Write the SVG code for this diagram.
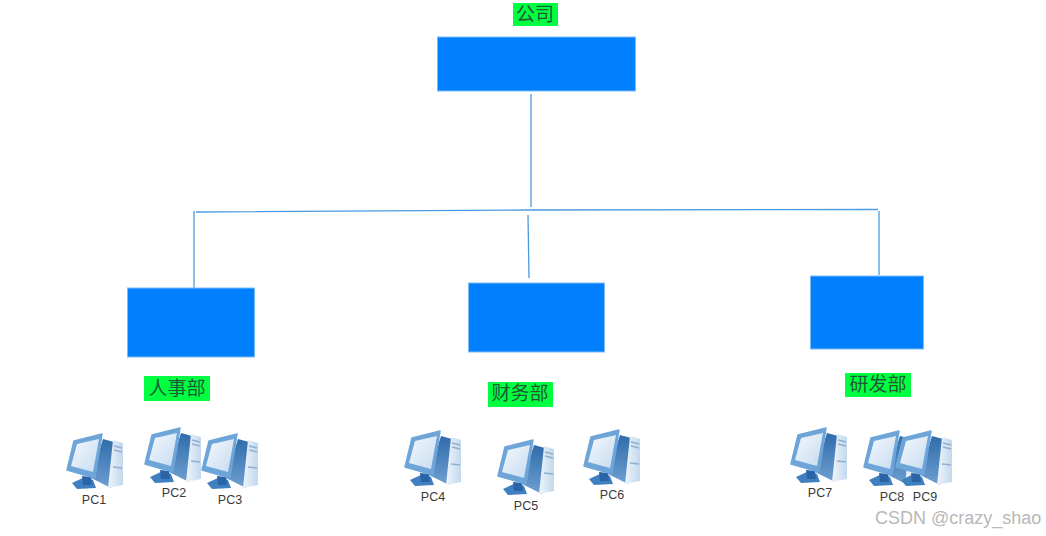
<svg xmlns="http://www.w3.org/2000/svg" width="1046" height="536" viewBox="0 0 1046 536">
<style>
.box{fill:#0080ff;stroke:#7dbcf5;stroke-width:1}
.tag{fill:#00ff40}
.cn{font-family:"Noto Sans CJK SC","Liberation Sans",sans-serif;font-size:19px;fill:#1f5a36;text-anchor:middle}
.pc{font-family:"Liberation Sans",Arial,sans-serif;font-size:12.500px;fill:#3a3a3a;text-anchor:middle}
.wm{font-family:"Liberation Sans",Arial,sans-serif;font-size:18px;fill:#b8b8b8}
.ln{stroke:#4a9ae0;stroke-width:1.300;fill:none}
</style>
<defs>
<linearGradient id="scr" x1="0" y1="0" x2="1" y2="1"><stop offset="0" stop-color="#f4f8fc"/><stop offset="1" stop-color="#c6dcf0"/></linearGradient>
<linearGradient id="tow" x1="0" y1="0" x2="1" y2="0"><stop offset="0" stop-color="#eef5fb"/><stop offset="1" stop-color="#c2d8ec"/></linearGradient>
<linearGradient id="side" x1="0" y1="0" x2="0" y2="1"><stop offset="0" stop-color="#2f6cab"/><stop offset="1" stop-color="#6f9fd0"/></linearGradient>
<filter id="soft" x="-10%" y="-10%" width="120%" height="120%"><feGaussianBlur stdDeviation="0.500"/></filter>
<g id="pcicon" filter="url(#soft)">
<path d="M36 5 L47 8 L44 54 L24 44 Z" fill="url(#side)"/>
<path d="M46 6 L56 9 L56 51 L41 54 Z" fill="url(#tow)"/>
<path d="M47 12 L55 14 M47 16 L55 18 M46 33 L55 34" stroke="#8fb0cf" stroke-width="1.400" fill="none"/>
<path d="M5 49 L18 43 L26 46 L29 54 L10 55 Z" fill="#3f7fc0"/>
<path d="M15 42 L24 43 L25 51 L16 51 Z" fill="#2a64a6"/>
<path d="M7 7 L35 0 L28 44 L0 36 Z" fill="#6ea5d8" stroke="#6ea5d8" stroke-width="1.500" stroke-linejoin="round"/>
<path d="M10 10 L32 5 L26 38 L4 32 Z" fill="url(#scr)"/>
</g>
</defs>
<rect width="1046" height="536" fill="#fff"/>
<g id="connectors" class="ln">
<path d="M531 94 V207"/>
<path d="M196 212 L530 210 L878 209.500"/>
<path d="M194 211 V288"/>
<path d="M528 215 L529 278"/>
<path d="M879 211 V275"/>
</g>
<g id="company"><rect class="box" x="437.500" y="37" width="198" height="54"/><rect class="tag" x="513" y="3" width="45" height="23"/><text class="cn" x="535" y="21">公司</text></g>
<g id="hr"><rect class="box" x="127.500" y="288" width="127" height="69"/><rect class="tag" x="144" y="376" width="66" height="25"/><text class="cn" x="177" y="395">人事部</text></g>
<g id="finance"><rect class="box" x="468.500" y="283" width="136" height="69"/><rect class="tag" x="488" y="382" width="65" height="25"/><text class="cn" x="520" y="400">财务部</text></g>
<g id="rd"><rect class="box" x="810.500" y="276" width="113" height="73"/><rect class="tag" x="845" y="373" width="66" height="24"/><text class="cn" x="878" y="391">研发部</text></g>
<g id="pc1"><use href="#pcicon" x="67" y="434"/><text class="pc" x="94" y="504">PC1</text></g>
<g id="pc2"><use href="#pcicon" x="145" y="428"/><text class="pc" x="174" y="497">PC2</text></g>
<g id="pc3"><use href="#pcicon" x="202" y="434"/><text class="pc" x="230" y="504">PC3</text></g>
<g id="pc4"><use href="#pcicon" x="405" y="431"/><text class="pc" x="433" y="501">PC4</text></g>
<g id="pc5"><use href="#pcicon" x="498" y="440"/><text class="pc" x="526" y="510">PC5</text></g>
<g id="pc6"><use href="#pcicon" x="584" y="430"/><text class="pc" x="612" y="499">PC6</text></g>
<g id="pc7"><use href="#pcicon" x="791" y="428"/><text class="pc" x="820" y="497">PC7</text></g>
<g id="pc8"><use href="#pcicon" x="864" y="431"/><text class="pc" x="892" y="501">PC8</text></g>
<g id="pc9"><use href="#pcicon" x="896" y="431"/><text class="pc" x="925" y="501">PC9</text></g>
<text class="wm" x="875" y="524">CSDN @crazy_shao</text>
</svg>
